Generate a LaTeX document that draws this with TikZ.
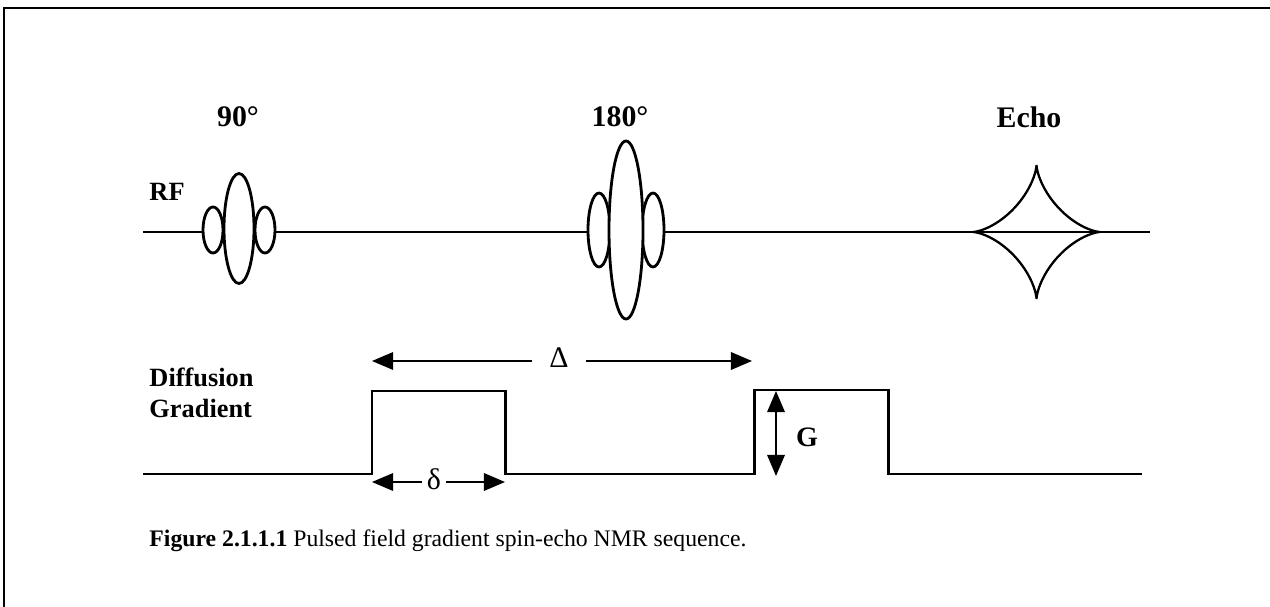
\documentclass[tikz,border=0pt]{standalone}
\usepackage{fontspec}
\setmainfont{Liberation Serif}
\usetikzlibrary{arrows.meta}

\begin{document}
\begin{tikzpicture}[x=0.02cm, y=-0.02cm, line width=1.7pt,
  lbl/.style={font=\fontsize{17}{19}\selectfont\bfseries, inner sep=0pt},
  side/.style={font=\fontsize{15}{17.5}\selectfont\bfseries, inner sep=0pt, anchor=west, align=left},
  lobe/.style={draw, fill=white, line width=1.6pt},
  dimarr/.style={line width=0.9pt, -{Triangle[length=12pt,width=10pt]}}]
\useasboundingbox (0,0) rectangle (1270,607);
% frame
\draw[line width=1pt] (4,607) -- (4,8) -- (1270,8);
% labels
\node[lbl] (p90) at (238,117) {90°};
\node[lbl] (p180) at (620,117) {180°};
\node[lbl] (echo) at (1029,117) {Echo};
\node[side] (rf) at (148,192) {RF};
\node[side] (dg) at (148,393) {Diffusion\\Gradient};
% RF line
\coordinate (rfa) at (143,232);
\coordinate (rfb) at (1150,232);
\draw (rfa) -- (rfb);
% 90 pulse
\draw[lobe] (213,230) ellipse (10 and 23);
\draw[lobe] (265,230) ellipse (10 and 23);
\draw[lobe] (239,228.5) ellipse (15 and 55);
% 180 pulse
\draw[lobe] (599,230) ellipse (11 and 37);
\draw[lobe] (653,230) ellipse (11 and 37);
\draw[lobe] (626,230) ellipse (17 and 89);
% echo
\draw[line width=1.3pt] plot[domain=0:360, samples=145, variable=\t]
  ({1036.5+63.5*cos(\t)*cos(\t)*cos(\t)}, {232+67*sin(\t)*sin(\t)*sin(\t)});
% gradient
\coordinate (ga) at (143,474);
\coordinate (g1a) at (372,474); \coordinate (g1b) at (372,391);
\coordinate (g1c) at (505,391); \coordinate (g1d) at (505,474);
\coordinate (g2a) at (754,474); \coordinate (g2b) at (754,390);
\coordinate (g2c) at (888,390); \coordinate (g2d) at (888,474);
\coordinate (gb) at (1142,474);
\draw (ga) -- (g1a) -- (g1b) -- (g1c) -- (g1d) -- (g2a) -- (g2b) -- (g2c) -- (g2d) -- (gb);
% Delta
\coordinate (dl) at (372,361);
\coordinate (dr) at (752,361);
\node[font=\fontsize{17}{19}\selectfont, inner xsep=9pt] (Delta) at (559,358) {Δ};
\draw[dimarr] (Delta.west |- dl) -- (dl);
\draw[dimarr] (Delta.east |- dr) -- (dr);
% delta
\coordinate (sl) at (372,482);
\coordinate (sr) at (505,482);
\node[font=\fontsize{17}{19}\selectfont, inner xsep=2pt] (delta) at (434,479) {δ};
\draw[dimarr] (delta.west |- sl) -- (sl);
\draw[dimarr] (delta.east |- sr) -- (sr);
% G
\coordinate (gt) at (776,391);
\coordinate (gbt) at (776,476);
\draw[dimarr, {Triangle[length=12pt,width=10pt]}-{Triangle[length=12pt,width=10pt]}] (gt) -- (gbt);
\node[lbl, font=\fontsize{16}{18}\selectfont\bfseries] (G) at (807,437) {G};
% caption
\node[anchor=west, inner sep=0pt, font=\fontsize{13.5}{16}\selectfont] (cap) at (148,541)
  {\textbf{Figure 2.1.1.1} Pulsed field gradient spin-echo NMR sequence.};
\end{tikzpicture}
\end{document}
